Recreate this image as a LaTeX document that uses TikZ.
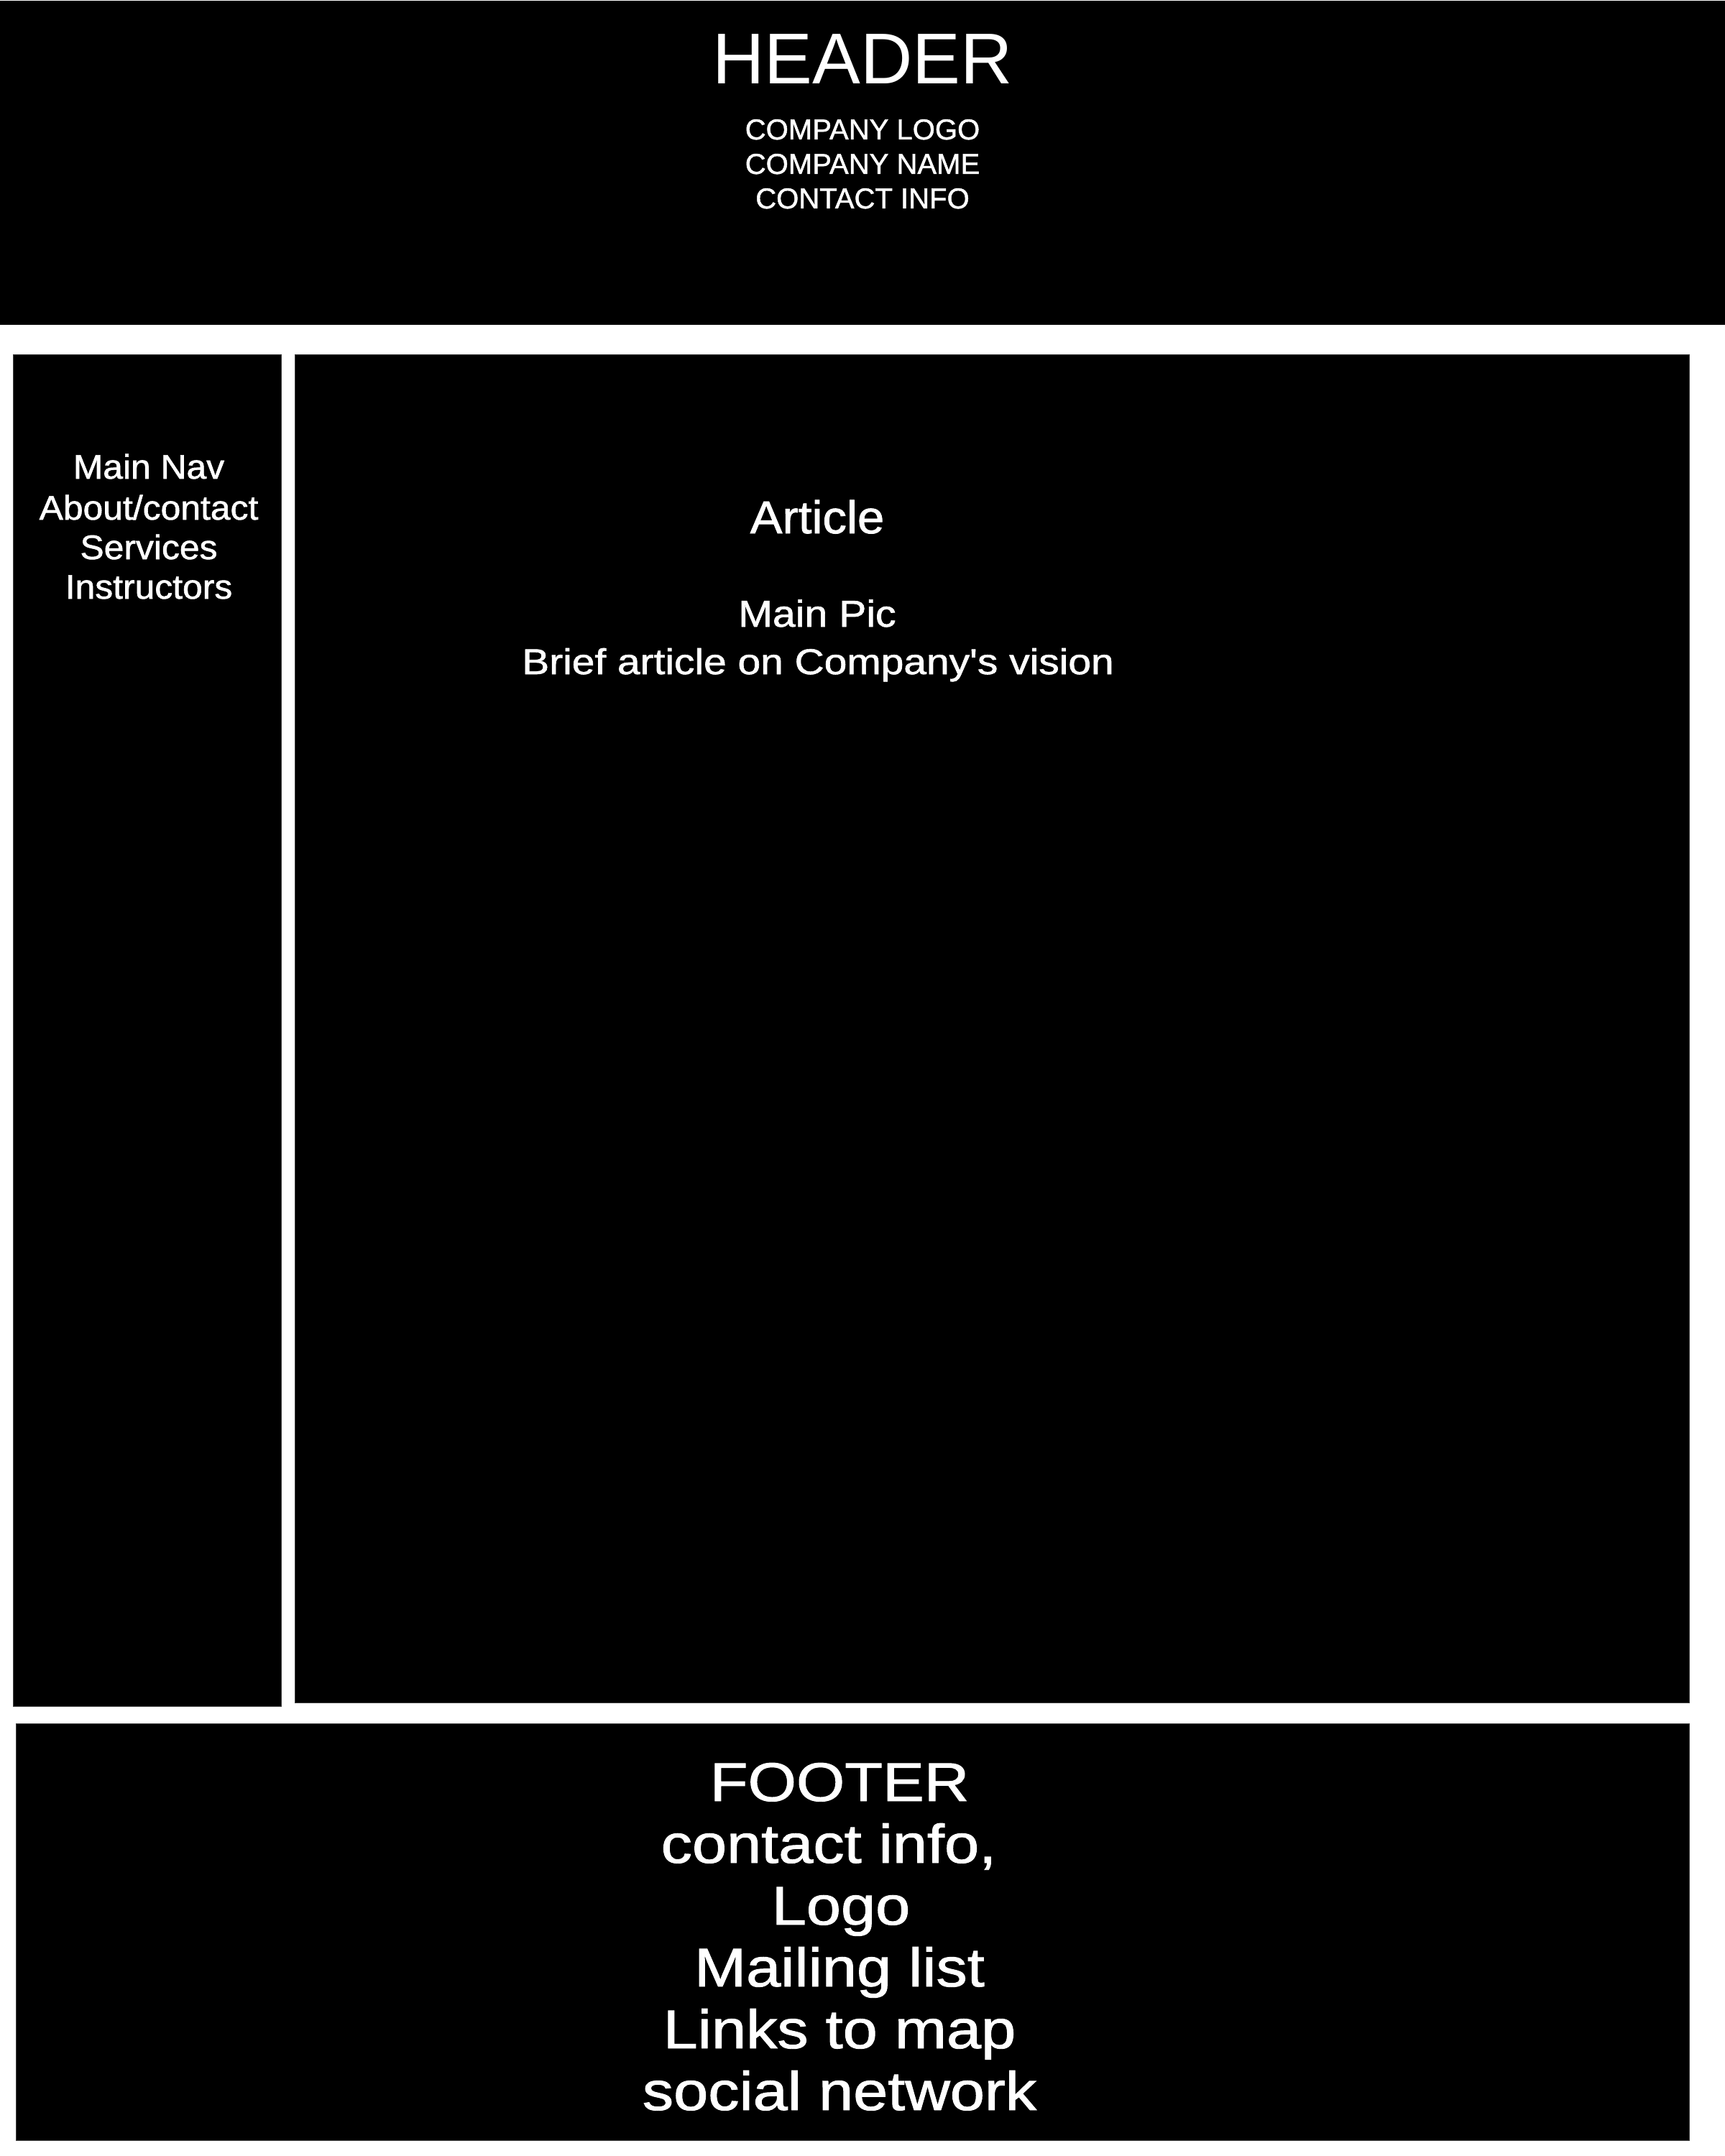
\documentclass[tikz,border=0pt]{standalone}
\usepackage{fontspec}
\usepackage{graphicx}
\setmainfont{Liberation Sans}
\newfontfamily\heavyish[FakeBold=1.2]{Liberation Sans}
\newcommand{\stx}[2]{\scalebox{#1}[1]{#2}}
\begin{document}
\begin{tikzpicture}[x=1cm,y=1cm,
  panel/.style={fill=black, draw=black!75, line width=0.28pt},
  txt/.style={text=white, inner sep=0pt, anchor=base},
  hbig/.style={txt, font=\fontsize{28.5}{30}\selectfont},
  hsmall/.style={txt, font=\heavyish\fontsize{11.4}{13}\selectfont},
  navtxt/.style={txt, font=\heavyish\fontsize{13.5}{15}\selectfont},
  arttitle/.style={txt, font=\heavyish\fontsize{18.2}{20}\selectfont},
  artpic/.style={txt, font=\heavyish\fontsize{14.8}{17}\selectfont},
  artbrief/.style={txt, font=\heavyish\fontsize{14.2}{16}\selectfont},
  foottxt/.style={txt, font=\heavyish\fontsize{21.6}{24}\selectfont}]
\useasboundingbox (0,0) rectangle (24,-30);
\fill[white] (0,0) rectangle (24,-30);
% panels
\fill[black] (0,-0.01) rectangle (24,-4.52);
\coordinate (headerbox) at (12,-2.26);
\draw[panel] (0.18,-4.93) rectangle (3.91,-23.74);
\draw[panel] (4.10,-4.93) rectangle (23.50,-23.69);
\draw[panel] (0.22,-23.98) rectangle (23.50,-29.78);
% header text
\node[hbig]   (htitle) at (12.00,-1.17) {HEADER};
\node[hsmall] (hlogo)  at (12.00,-1.94) {COMPANY LOGO};
\node[hsmall] (hname)  at (12.00,-2.42) {COMPANY NAME};
\node[hsmall] (hinfo)  at (12.00,-2.90) {CONTACT INFO};
% nav text
\node[navtxt] (nav1) at (2.07,-6.66) {\stx{1.05}{Main Nav}};
\node[navtxt] (nav2) at (2.07,-7.23) {\stx{1.05}{About/contact}};
\node[navtxt] (nav3) at (2.07,-7.78) {\stx{1.05}{Services}};
\node[navtxt] (nav4) at (2.07,-8.33) {\stx{1.05}{Instructors}};
% article text
\node[arttitle] (art1) at (11.37,-7.42) {\stx{1.05}{Article}};
\node[artpic]   (art2) at (11.37,-8.72) {\stx{1.10}{Main Pic}};
\node[artbrief] (art3) at (11.38,-9.38) {\stx{1.14}{Brief article on Company\textquotesingle s vision}};
% footer text
\node[foottxt] (f1) at (11.68,-25.06) {\stx{1.14}{FOOTER}};
\node[foottxt] (f2) at (11.53,-25.92) {\stx{1.14}{contact info,}};
\node[foottxt] (f3) at (11.70,-26.78) {\stx{1.14}{Logo}};
\node[foottxt] (f4) at (11.68,-27.64) {\stx{1.14}{Mailing list}};
\node[foottxt] (f5) at (11.68,-28.50) {\stx{1.14}{Links to map}};
\node[foottxt] (f6) at (11.68,-29.36) {\stx{1.14}{social network}};
\end{tikzpicture}
\end{document}
